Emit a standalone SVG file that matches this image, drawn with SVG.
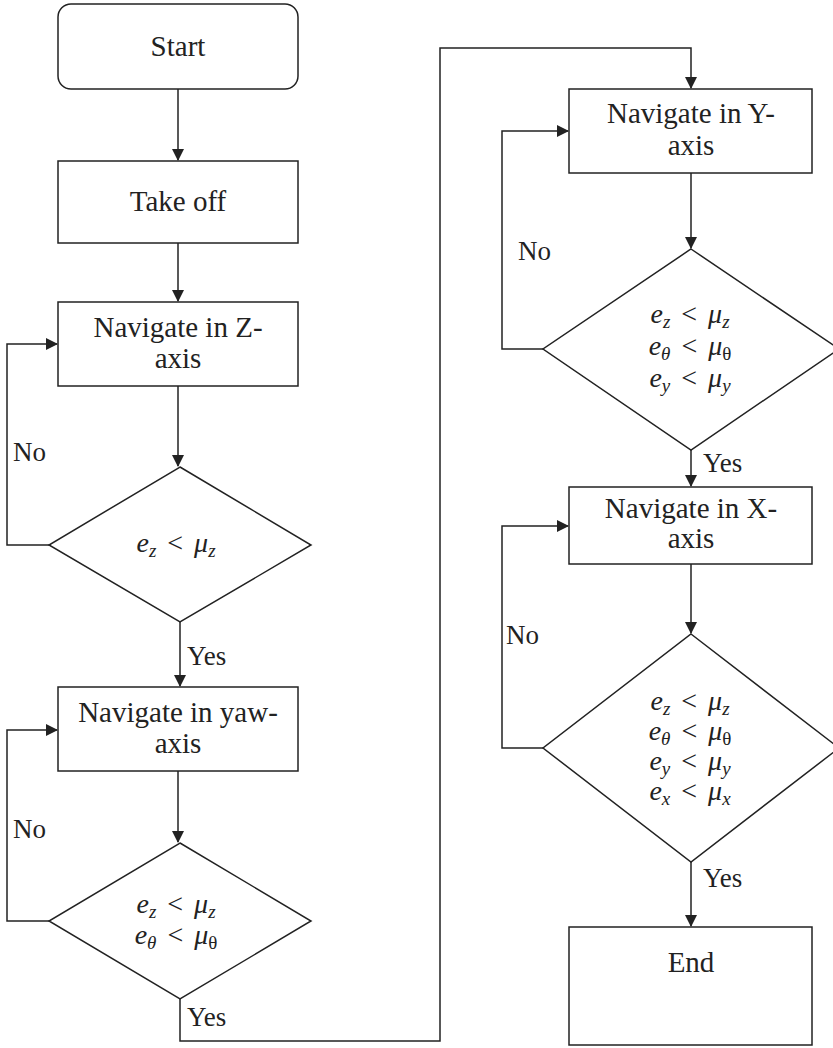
<svg xmlns="http://www.w3.org/2000/svg" width="833" height="1048" viewBox="0 0 833 1048">
<style>
.box{fill:#fff;stroke:#222;stroke-width:1.5}
.ln{fill:none;stroke:#222;stroke-width:1.5}
.t{font-family:"Liberation Serif",serif;font-size:29px;fill:#222;text-anchor:middle}
.lb{font-family:"Liberation Serif",serif;font-size:27px;fill:#222}
.m{font-family:"Liberation Serif",serif;font-size:28px;fill:#222;text-anchor:middle}
.i{font-style:italic}
.s{font-size:19px;font-style:italic}
.su{font-size:19px}
</style>
<defs>
<marker id="ah" markerUnits="userSpaceOnUse" markerWidth="12" markerHeight="12" refX="11" refY="6" orient="auto">
<path d="M0,0 L12,6 L0,12 z" fill="#222"/>
</marker>
</defs>
<rect width="833" height="1048" fill="#fff"/>
<g id="connectors">
<path class="ln" d="M178,89 V160" marker-end="url(#ah)"/>
<path class="ln" d="M178,243 V301" marker-end="url(#ah)"/>
<path class="ln" d="M178,386 V466" marker-end="url(#ah)"/>
<path class="ln" d="M49,545 H7 V344 H57" marker-end="url(#ah)"/>
<path class="ln" d="M180,622 V686" marker-end="url(#ah)"/>
<path class="ln" d="M178,771 V842" marker-end="url(#ah)"/>
<path class="ln" d="M49,921 H7 V730 H57" marker-end="url(#ah)"/>
<path class="ln" d="M180,999 V1041 H440 V48 H691 V88" marker-end="url(#ah)"/>
<path class="ln" d="M691,173 V248" marker-end="url(#ah)"/>
<path class="ln" d="M543,349 H502 V131 H568" marker-end="url(#ah)"/>
<path class="ln" d="M691,450 V486" marker-end="url(#ah)"/>
<path class="ln" d="M691,564 V633" marker-end="url(#ah)"/>
<path class="ln" d="M543,748 H502 V526 H568" marker-end="url(#ah)"/>
<path class="ln" d="M691,862 V926" marker-end="url(#ah)"/>
<text class="lb" x="13" y="461">No</text>
<text class="lb" x="187" y="665">Yes</text>
<text class="lb" x="13" y="838">No</text>
<text class="lb" x="187" y="1026">Yes</text>
<text class="lb" x="518" y="260">No</text>
<text class="lb" x="703" y="472">Yes</text>
<text class="lb" x="506" y="644">No</text>
<text class="lb" x="703" y="887">Yes</text>
</g>
<g id="start">
<rect class="box" x="58" y="4" width="240" height="85" rx="13"/>
<text class="t" x="178" y="56">Start</text>
</g>
<g id="takeoff">
<rect class="box" x="58" y="161" width="240" height="82"/>
<text class="t" x="178" y="211">Take off</text>
</g>
<g id="navz">
<rect class="box" x="58" y="302" width="240" height="84"/>
<text class="t" x="178" y="337">Navigate in Z-</text>
<text class="t" x="178" y="368">axis</text>
</g>
<g id="dz">
<polygon class="box" points="180,467 311,545 180,622 49,545"/>
<text class="m" x="176" y="552"><tspan class="i">e</tspan><tspan class="s" dy="5">z</tspan><tspan dy="-5" dx="4"> &lt; </tspan><tspan class="i" dx="4">μ</tspan><tspan class="s" dy="5">z</tspan></text>
</g>
<g id="navyaw">
<rect class="box" x="58" y="687" width="240" height="84"/>
<text class="t" x="178" y="722">Navigate in yaw-</text>
<text class="t" x="178" y="753">axis</text>
</g>
<g id="dyaw">
<polygon class="box" points="180,843 311,921 180,999 49,921"/>
<text class="m" x="176" y="913"><tspan class="i">e</tspan><tspan class="s" dy="5">z</tspan><tspan dy="-5" dx="4"> &lt; </tspan><tspan class="i" dx="4">μ</tspan><tspan class="s" dy="5">z</tspan></text>
<text class="m" x="176" y="944"><tspan class="i">e</tspan><tspan class="s" dy="5">θ</tspan><tspan dy="-5" dx="4"> &lt; </tspan><tspan class="i" dx="4">μ</tspan><tspan class="su" dy="5">θ</tspan></text>
</g>
<g id="navy">
<rect class="box" x="569" y="89" width="243" height="84"/>
<text class="t" x="691" y="123">Navigate in Y-</text>
<text class="t" x="691" y="155">axis</text>
</g>
<g id="dy">
<polygon class="box" points="691,249 839,349 691,450 543,349"/>
<text class="m" x="690" y="323"><tspan class="i">e</tspan><tspan class="s" dy="5">z</tspan><tspan dy="-5" dx="4"> &lt; </tspan><tspan class="i" dx="4">μ</tspan><tspan class="s" dy="5">z</tspan></text>
<text class="m" x="690" y="355"><tspan class="i">e</tspan><tspan class="s" dy="5">θ</tspan><tspan dy="-5" dx="4"> &lt; </tspan><tspan class="i" dx="4">μ</tspan><tspan class="su" dy="5">θ</tspan></text>
<text class="m" x="690" y="387"><tspan class="i">e</tspan><tspan class="s" dy="5">y</tspan><tspan dy="-5" dx="4"> &lt; </tspan><tspan class="i" dx="4">μ</tspan><tspan class="s" dy="5">y</tspan></text>
</g>
<g id="navx">
<rect class="box" x="569" y="487" width="243" height="77"/>
<text class="t" x="691" y="518">Navigate in X-</text>
<text class="t" x="691" y="548">axis</text>
</g>
<g id="dx">
<polygon class="box" points="691,634 839,748 691,862 543,748"/>
<text class="m" x="690" y="710"><tspan class="i">e</tspan><tspan class="s" dy="5">z</tspan><tspan dy="-5" dx="4"> &lt; </tspan><tspan class="i" dx="4">μ</tspan><tspan class="s" dy="5">z</tspan></text>
<text class="m" x="690" y="740"><tspan class="i">e</tspan><tspan class="s" dy="5">θ</tspan><tspan dy="-5" dx="4"> &lt; </tspan><tspan class="i" dx="4">μ</tspan><tspan class="su" dy="5">θ</tspan></text>
<text class="m" x="690" y="770"><tspan class="i">e</tspan><tspan class="s" dy="5">y</tspan><tspan dy="-5" dx="4"> &lt; </tspan><tspan class="i" dx="4">μ</tspan><tspan class="s" dy="5">y</tspan></text>
<text class="m" x="690" y="800"><tspan class="i">e</tspan><tspan class="s" dy="5">x</tspan><tspan dy="-5" dx="4"> &lt; </tspan><tspan class="i" dx="4">μ</tspan><tspan class="s" dy="5">x</tspan></text>
</g>
<g id="end">
<rect class="box" x="569" y="927" width="243" height="118"/>
<text class="t" x="691" y="972">End</text>
</g>
</svg>
